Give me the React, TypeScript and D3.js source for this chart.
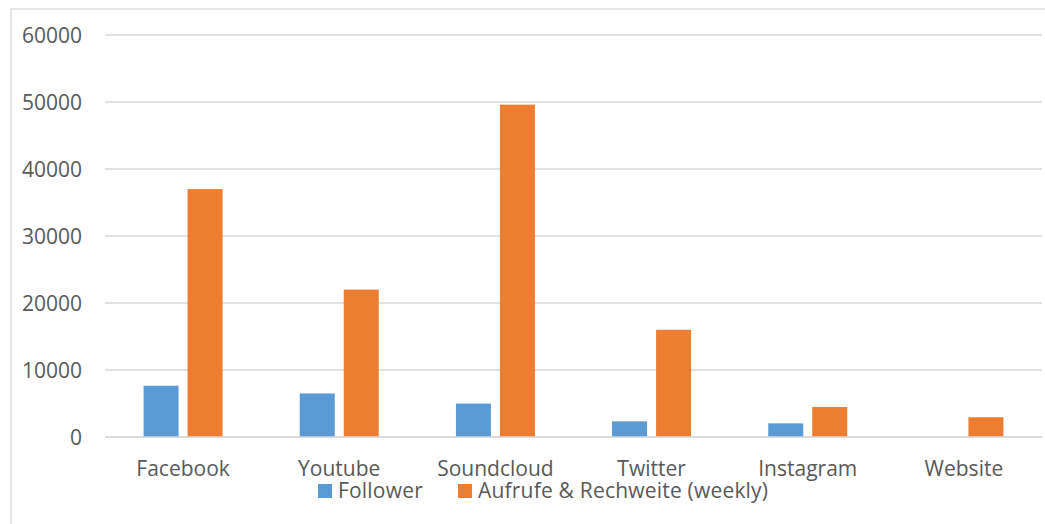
import * as d3 from "d3";

const categories = ["Facebook", "Youtube", "Soundcloud", "Twitter", "Instagram", "Website"];
const seriesNames = ["Follower", "Aufrufe & Rechweite (weekly)"];
const followers = [7650, 6500, 4980, 2340, 2040, 0];
const reach = [37000, 22000, 49600, 16000, 4480, 2950];
const yTicks = [0, 10000, 20000, 30000, 40000, 50000, 60000];
const colors = ["#5B9BD5", "#ED7D31"];

const width = 1045;
const height = 524;
const margin = { top: 35, right: 3, bottom: 87, left: 105 };

export default function App() {
  const x = d3
    .scaleBand<string>()
    .domain(categories)
    .range([margin.left, width - margin.right]);

  const inner = d3
    .scaleBand<string>()
    .domain(seriesNames)
    .range([0, 79])
    .paddingInner(9 / 44);

  const y = d3
    .scaleLinear()
    .domain([0, 60000])
    .range([height - margin.bottom, margin.top]);

  const values = [followers, reach];
  const font = "'Open Sans', 'DejaVu Sans', sans-serif";

  return (
    <div style={{ position: "absolute", left: 0, top: 0 }}>
      <svg width={width} height={height} viewBox={`0 0 ${width} ${height}`} style={{ display: "block" }}>
        <rect x={0} y={0} width={width} height={height} fill="#fff" />
        <rect x={11} y={9} width={width} height={height} fill="none" stroke="#d9d9d9" strokeWidth={1.3} />

        {yTicks.map((t) => (
          <g key={t}>
            <line
              x1={margin.left}
              x2={width - margin.right}
              y1={y(t)}
              y2={y(t)}
              stroke="#d9d9d9"
              strokeWidth={1.3}
            />
            <text
              x={82}
              y={y(t)}
              dy="0.36em"
              textAnchor="end"
              fontFamily={font}
              fontSize={21}
              fill="#595959"
            >
              {t}
            </text>
          </g>
        ))}

        {categories.map((c, i) => {
          const cx = x(c)! + x.bandwidth() / 2;
          const x0 = cx - 39.5;
          return (
            <g key={c}>
              {seriesNames.map((s, j) => {
                const v = values[j][i];
                if (!v) return null;
                return (
                  <rect
                    key={s}
                    x={x0 + inner(s)!}
                    y={y(v)}
                    width={inner.bandwidth()}
                    height={y(0) - y(v)}
                    fill={colors[j]}
                  />
                );
              })}
              <text
                x={cx}
                y={476}
                textAnchor="middle"
                fontFamily={font}
                fontSize={21}
                fill="#595959"
              >
                {c}
              </text>
            </g>
          );
        })}

        <line
          x1={margin.left}
          x2={width - margin.right}
          y1={y(0)}
          y2={y(0)}
          stroke="#d9d9d9"
          strokeWidth={1.5}
        />

        {[318, 458].map((lx, j) => (
          <g key={seriesNames[j]}>
            <rect x={lx} y={484} width={14} height={14} fill={colors[j]} />
            <text
              x={lx + 20}
              y={498}
              fontFamily={font}
              fontSize={21}
              letterSpacing={0.2}
              fill="#595959"
            >
              {seriesNames[j]}
            </text>
          </g>
        ))}
      </svg>
    </div>
  );
}
